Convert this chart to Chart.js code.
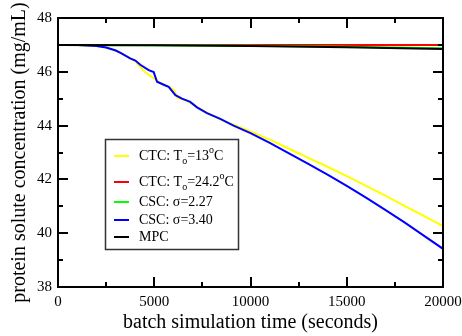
<!DOCTYPE html>
<html>
<head>
<meta charset="utf-8">
<script src="https://cdn.jsdelivr.net/npm/chart.js@4"></script>
<style>
  html, body { margin: 0; padding: 0; background: #fff; }
  #wrap { width: 462px; height: 336px; }
</style>
</head>
<body>
<div id="wrap"><canvas id="chartConc"></canvas></div>
<script>
// ====== Dados ======
const tBlue = [0, 1000, 2000, 2500, 3000, 3250, 3750, 4020, 4275, 4710, 4970, 5145, 5490, 5750, 6100, 6440, 6870, 7220, 7740, 8430, 9120,
  10000, 11000, 12000, 13000, 14000, 15000, 16000, 17000, 18000, 19000, 20000];
const cBlue = [47.0, 47.0, 46.96, 46.9, 46.79, 46.70, 46.50, 46.42, 46.26, 46.06, 45.99, 45.63, 45.52, 45.44, 45.13, 45.0, 44.88, 44.68, 44.46, 44.25, 44.0,
  43.72, 43.36, 42.97, 42.58, 42.18, 41.76, 41.32, 40.87, 40.40, 39.91, 39.42];

const tYellow = [0, 1000, 2000, 2500, 3000, 3500, 4000, 4535, 4970, 5200, 5500, 5800, 6050, 6200, 6700, 7220, 7740, 8430, 9120,
  10000, 11000, 12000, 13000, 14000, 15000, 16000, 17000, 18000, 19000, 20000];
const cYellow = [47.0, 47.0, 46.96, 46.9, 46.79, 46.60, 46.40, 45.98, 45.76, 45.64, 45.52, 45.42, 45.30, 45.04, 44.92, 44.70, 44.48, 44.23, 44.03,
  43.78, 43.48, 43.14, 42.80, 42.47, 42.12, 41.76, 41.40, 41.02, 40.64, 40.26];

const tFlat = [0, 5000, 10000, 15000, 20000];
const cRed = [47.0, 47.0, 47.0, 47.0, 47.0];
const cGreen = [47.0, 46.99, 46.97, 46.93, 46.88];
const cBlack = [47.0, 46.99, 46.96, 46.91, 46.85];

// legenda: "_x" = subscrito, "^x" = sobrescrito
const legendLabels = ["CTC: T_o=13^oC", "CTC: T_o=24.2^oC", "CSC: \u03c3=2.27", "CSC: \u03c3=3.40", "MPC"];
const legendColors = ["#ffff00", "#ff0000", "#00ff00", "#0000ff", "#000000"];

const xTicksMajor = [0, 5000, 10000, 15000, 20000];
const yTicksMajor = [38, 40, 42, 44, 46, 48];

const SERIF = "'Liberation Serif', 'DejaVu Serif', serif";

function pts(ts, vs) {
  return ts.map((t, i) => ({ x: t, y: vs[i] }));
}

// ====== Moldura, ticks internos e legenda ======
function drawRich(ctx, x, y, label, size) {
  let i = 0;
  while (i < label.length) {
    const ch = label[i];
    if ((ch === "_" || ch === "^") && i + 1 < label.length) {
      const c = label[i + 1];
      ctx.font = Math.round(size * 0.7) + "px " + SERIF;
      const dy = ch === "_" ? size * 0.35 : -size * 0.4;
      ctx.fillText(c, x, y + dy);
      x += ctx.measureText(c).width;
      i += 2;
    } else {
      ctx.font = size + "px " + SERIF;
      ctx.fillText(ch, x, y);
      x += ctx.measureText(ch).width;
      i += 1;
    }
  }
}

const framePlugin = {
  id: "frame",
  afterDatasetsDraw(chart) {
    const { ctx, chartArea: a, scales } = chart;
    const xs = scales.x, ys = scales.y;
    ctx.save();
    ctx.strokeStyle = "#000";
    ctx.lineWidth = 2;
    ctx.strokeRect(a.left, a.top, a.right - a.left, a.bottom - a.top);

    ctx.beginPath();
    for (let v = 0; v <= 20000; v += 2500) {
      const px = Math.round(xs.getPixelForValue(v));
      const len = v % 5000 === 0 ? 10 : 5;
      ctx.moveTo(px, a.bottom); ctx.lineTo(px, a.bottom - len);
      ctx.moveTo(px, a.top); ctx.lineTo(px, a.top + len);
    }
    for (let v = 38; v <= 48; v += 1) {
      const py = Math.round(ys.getPixelForValue(v));
      const len = v % 2 === 0 ? 10 : 5;
      ctx.moveTo(a.left, py); ctx.lineTo(a.left + len, py);
      ctx.moveTo(a.right, py); ctx.lineTo(a.right - len, py);
    }
    ctx.stroke();

    // legenda
    const bx = 105.5, by = 139.5, bw = 133, bh = 110;
    ctx.fillStyle = "#fff";
    ctx.fillRect(bx, by, bw, bh);
    ctx.strokeStyle = "#333";
    ctx.lineWidth = 1.5;
    ctx.strokeRect(bx, by, bw, bh);
    const rowsY = [156, 182, 202, 220, 237];
    ctx.textBaseline = "middle";
    legendLabels.forEach((lab, i) => {
      ctx.strokeStyle = legendColors[i];
      ctx.lineWidth = 2;
      ctx.beginPath();
      ctx.moveTo(114, rowsY[i]); ctx.lineTo(129, rowsY[i]);
      ctx.stroke();
      ctx.fillStyle = "#000";
      drawRich(ctx, 139, rowsY[i], lab, 14);
    });
    ctx.restore();
  }
};

// ====== Gráfico ======
const lineStyle = { borderWidth: 2, pointRadius: 0, tension: 0, fill: false };

new Chart(document.getElementById("chartConc"), {
  type: "line",
  data: {
    datasets: [
      { label: "CTC: To=13oC", data: pts(tYellow, cYellow), borderColor: legendColors[0], order: 5, ...lineStyle },
      { label: "CTC: To=24.2oC", data: pts(tFlat, cRed), borderColor: legendColors[1], order: 4, ...lineStyle },
      { label: "CSC: s=2.27", data: pts(tFlat, cGreen), borderColor: legendColors[2], order: 3, ...lineStyle },
      { label: "CSC: s=3.40", data: pts(tBlue, cBlue), borderColor: legendColors[3], order: 2, ...lineStyle },
      { label: "MPC", data: pts(tFlat, cBlack), borderColor: legendColors[4], order: 1, ...lineStyle }
    ]
  },
  options: {
    responsive: true,
    maintainAspectRatio: false,
    animation: false,
    layout: { padding: { top: 18, right: 19, left: 0, bottom: 0 } },
    plugins: { legend: { display: false }, tooltip: { enabled: false } },
    scales: {
      x: {
        type: "linear", min: 0, max: 20000,
        afterBuildTicks: s => { s.ticks = xTicksMajor.map(v => ({ value: v })); },
        afterFit: s => { s.height = 49; s.paddingLeft = 0; s.paddingRight = 0; },
        grid: { display: false, drawTicks: false },
        border: { display: false },
        ticks: { color: "#000", padding: 6, maxRotation: 0, callback: v => String(v),
          font: { family: SERIF, size: 15 } },
        title: { display: true, text: "batch simulation time (seconds)", color: "#000",
          padding: { top: 0, bottom: 1 }, font: { family: SERIF, size: 20 } }
      },
      y: {
        type: "linear", min: 38, max: 48,
        afterBuildTicks: s => { s.ticks = yTicksMajor.map(v => ({ value: v })); },
        afterFit: s => { s.width = 58; s.paddingTop = 0; s.paddingBottom = 0; },
        grid: { display: false, drawTicks: false },
        border: { display: false },
        ticks: { color: "#000", padding: 6, callback: v => String(v),
          font: { family: SERIF, size: 15 } },
        title: { display: true, text: "protein solute concentration (mg/mL)", color: "#000",
          padding: { top: 8, bottom: 0 }, font: { family: SERIF, size: 20 } }
      }
    }
  },
  plugins: [framePlugin]
});
</script>
</body>
</html>
